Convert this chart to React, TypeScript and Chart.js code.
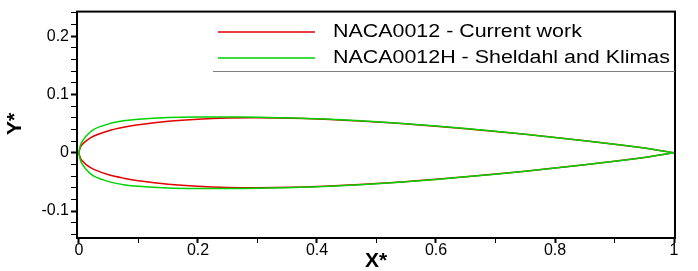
import React, { useEffect, useRef } from 'react';
import { Chart, registerables } from 'chart.js';

Chart.register(...registerables);

// Chordwise stations (x/c)
const stations = [0, 0.0025, 0.005, 0.0125, 0.025, 0.05, 0.075, 0.1, 0.15, 0.2, 0.25, 0.3, 0.4, 0.5, 0.6, 0.7, 0.8, 0.9, 0.95, 1.0];

// NACA0012 - Current work
const currentUpper = [0, 0.0095, 0.0135, 0.0208, 0.0286, 0.0378, 0.0436, 0.048, 0.054, 0.0576, 0.0595, 0.06, 0.058, 0.0529, 0.0456, 0.0366, 0.0262, 0.0145, 0.0081, 0];
const currentLower = [0, -0.0095, -0.0135, -0.0208, -0.0286, -0.0378, -0.0436, -0.048, -0.054, -0.0576, -0.0595, -0.06, -0.058, -0.0529, -0.0456, -0.0366, -0.0262, -0.0145, -0.0081, 0];

// NACA0012H - Sheldahl and Klimas
const sheldahlUpper = [0, 0.0132, 0.0186, 0.0292, 0.0402, 0.0495, 0.0547, 0.0576, 0.0604, 0.0613, 0.0613, 0.0608, 0.0582, 0.053, 0.0457, 0.0367, 0.0263, 0.0146, 0.0081, 0];
const sheldahlLower = [0, -0.0132, -0.0186, -0.0292, -0.0402, -0.0495, -0.0547, -0.0576, -0.0604, -0.0613, -0.0613, -0.0608, -0.0582, -0.053, -0.0457, -0.0367, -0.0263, -0.0146, -0.0081, 0];

const seriesLabels = ['NACA0012 - Current work', 'NACA0012H - Sheldahl and Klimas'];
const seriesColors = ['rgb(225,0,0)', 'rgb(0,210,0)'];

const xAxisTitle = 'X*';
const yAxisTitle = 'Y*';

function closedPath(upper: number[], lower: number[]) {
  const pts: { x: number; y: number }[] = [];
  for (let i = stations.length - 1; i >= 0; i--) pts.push({ x: stations[i], y: upper[i] });
  for (let i = 1; i < stations.length; i++) pts.push({ x: stations[i], y: lower[i] });
  return pts;
}

function tickLabel(v: number, every: number) {
  const r = Math.round(v * 10);
  if (Math.abs(v * 10 - r) > 1e-6) return '';
  if (r % every !== 0) return '';
  return r === 0 ? '0' : String(r / 10);
}

function isMajor(v: number, every: number) {
  return tickLabel(v, every) !== '';
}

const FONT = '"Liberation Sans", Arial, Helvetica, sans-serif';

const decorPlugin = {
  id: 'decor',
  afterDraw(chart: any) {
    const ctx = chart.ctx as CanvasRenderingContext2D;
    const { left, top, right, bottom } = chart.chartArea;
    ctx.save();
    // frame
    ctx.strokeStyle = '#000';
    ctx.lineWidth = 2;
    ctx.strokeRect(left, top, right - left, bottom - top);

    // legend
    const lineX0 = 218;
    const lineX1 = 315;
    const textX = 333;
    const rowY = [32, 58];
    ctx.font = `18px ${FONT}`;
    const w2 = ctx.measureText(chart.data.datasets[1].label).width;
    const sx = 337 / w2;
    chart.data.datasets.forEach((ds: any, i: number) => {
      ctx.strokeStyle = ds.borderColor;
      ctx.lineWidth = 1.5;
      ctx.beginPath();
      ctx.moveTo(lineX0, rowY[i]);
      ctx.lineTo(lineX1, rowY[i]);
      ctx.stroke();
      ctx.save();
      ctx.translate(textX, rowY[i]);
      ctx.scale(sx, 1);
      ctx.fillStyle = '#000';
      ctx.textAlign = 'left';
      ctx.textBaseline = 'middle';
      ctx.fillText(ds.label, 0, 0);
      ctx.restore();
    });
    ctx.strokeStyle = '#808080';
    ctx.lineWidth = 1;
    ctx.beginPath();
    ctx.moveTo(213, 71.5);
    ctx.lineTo(right, 71.5);
    ctx.stroke();

    // axis titles
    ctx.fillStyle = '#000';
    ctx.font = `bold 21px ${FONT}`;
    ctx.textAlign = 'center';
    ctx.textBaseline = 'alphabetic';
    ctx.fillText(xAxisTitle, 376, 267);
    ctx.save();
    ctx.translate(21, 124);
    ctx.rotate(-Math.PI / 2);
    ctx.fillText(yAxisTitle, 0, 0);
    ctx.restore();
    ctx.restore();
  },
};

export default function App() {
  const ref = useRef<HTMLCanvasElement | null>(null);
  useEffect(() => {
    if (!ref.current) return;
    const chart = new Chart(ref.current, {
      type: 'scatter',
      data: {
        datasets: [
          {
            label: seriesLabels[0],
            data: closedPath(currentUpper, currentLower),
            borderColor: seriesColors[0],
            backgroundColor: seriesColors[0],
            showLine: true,
            pointRadius: 0,
            borderWidth: 1.5,
            tension: 0.3,
            order: 1,
          },
          {
            label: seriesLabels[1],
            data: closedPath(sheldahlUpper, sheldahlLower),
            borderColor: seriesColors[1],
            backgroundColor: seriesColors[1],
            showLine: true,
            pointRadius: 0,
            borderWidth: 1.5,
            tension: 0.3,
            order: 0,
          },
        ],
      },
      options: {
        animation: false,
        responsive: false,
        layout: { padding: { left: 0, top: 7, right: 23, bottom: 0 } },
        plugins: {
          legend: { display: false },
          tooltip: { enabled: false },
        },
        scales: {
          x: {
            type: 'linear',
            min: -0.00336,
            max: 1.00168,
            afterFit: (s: any) => {
              s.height = 33;
            },
            ticks: {
              stepSize: 0.1,
              includeBounds: false,
              autoSkip: false,
              maxRotation: 0,
              padding: -2,
              color: '#000',
              font: { family: FONT, size: 16 },
              callback: (v: any) => tickLabel(Number(v), 2),
            },
            grid: {
              drawOnChartArea: false,
              drawTicks: true,
              tickLength: 5,
              tickColor: '#000',
              tickWidth: (c: any) => (c.tick && isMajor(c.tick.value, 2) ? 2 : 1),
            },
            border: { display: true, color: '#000', width: 2 },
          },
          y: {
            type: 'linear',
            min: -0.1462,
            max: 0.242,
            afterFit: (s: any) => {
              s.width = 77;
            },
            ticks: {
              stepSize: 0.02,
              includeBounds: false,
              autoSkip: false,
              padding: 2,
              color: '#000',
              font: { family: FONT, size: 16 },
              callback: (v: any) => tickLabel(Number(v), 1),
            },
            grid: {
              drawOnChartArea: false,
              drawTicks: true,
              tickLength: 6,
              tickColor: '#000',
              tickWidth: (c: any) => (c.tick && isMajor(c.tick.value, 1) ? 2 : 1),
            },
            border: { display: true, color: '#000', width: 2 },
          },
        },
      },
      plugins: [decorPlugin],
    });
    return () => chart.destroy();
  }, []);
  return (
    <div style={{ position: 'fixed', left: 0, top: 0, width: 698, height: 271, background: '#fff' }}>
      <canvas ref={ref} width={698} height={271} style={{ width: 698, height: 271, display: 'block' }} />
    </div>
  );
}
